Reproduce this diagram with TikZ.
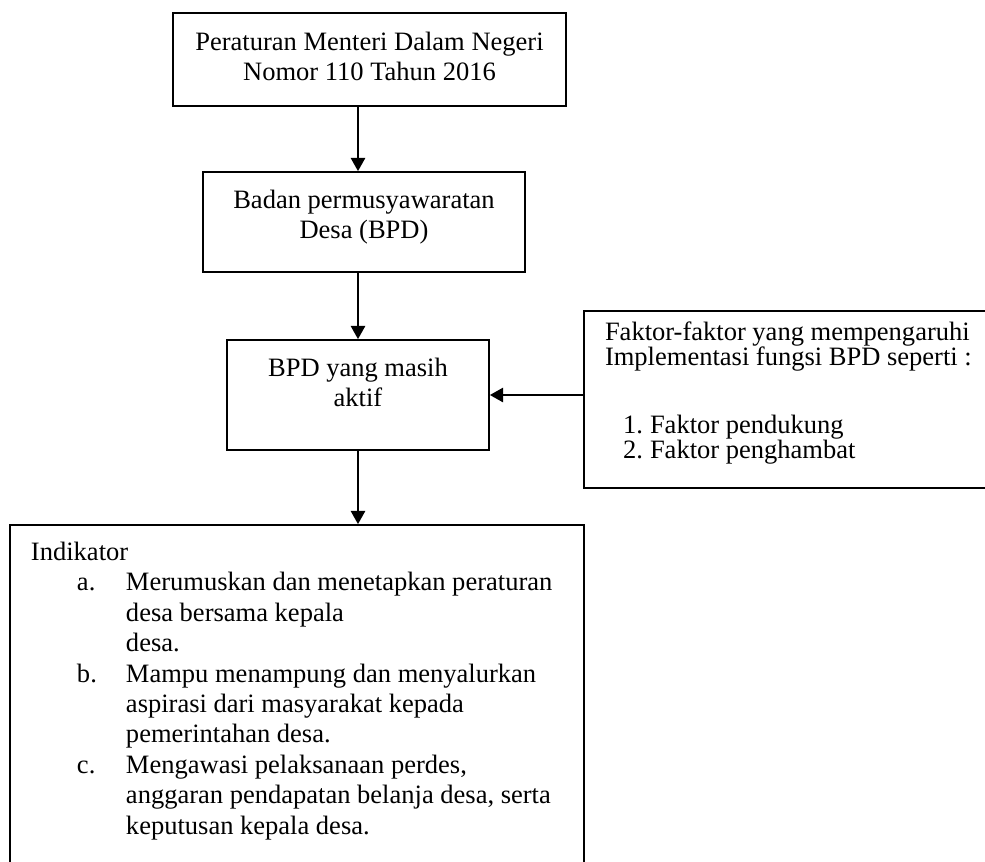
\documentclass[tikz,border=0pt]{standalone}
\usepackage{fontspec}
\setmainfont{Liberation Serif}
\usetikzlibrary{arrows.meta}

\newdimen\pxu \pxu=0.4525pt
\newcommand{\cbox}[4]{\parbox[c][#2\pxu][t]{#1\pxu}{\centering\rule{0pt}{#3\pxu}#4}}
\newcommand{\lbox}[4]{\parbox[c][#2\pxu][t]{#1\pxu}{\raggedright\rule{0pt}{#3\pxu}#4}}
\newcommand{\itm}[2]{\hspace*{67\pxu}\makebox[49\pxu][l]{#1}#2}
\newcommand{\cnt}[1]{\hspace*{116\pxu}#1}
\newcommand{\numitem}[2]{\hspace*{39\pxu}\makebox[27\pxu][l]{#1}#2}

\tikzstyle{box} = [rectangle, draw=black, line width=0.8pt, inner sep=0pt, font=\fontsize{12}{13.8}\selectfont]
\tikzstyle{arrow} = [line width=0.8pt,-{Triangle[length=6pt,width=6.5pt]}]

\begin{document}
\begin{tikzpicture}[x=\pxu, y=-\pxu]
    \path[use as bounding box] (0,0) rectangle (985,862);
    \clip (0,0) rectangle (985,862);

    \node (perm) [box] at (369.5,59.5) {\cbox{393}{93}{37}{Peraturan Menteri Dalam Negeri\\Nomor 110 Tahun 2016}};
    \node (bpd) [box] at (364,222) {\cbox{322}{100}{36}{Badan permusyawaratan\\Desa (BPD)}};
    \node (aktif) [box] at (358,395) {\cbox{262}{110}{36}{BPD yang masih\\aktif}};
    \node (faktor) [box] at (792,399.5) {\lbox{416}{177}{29}{\baselineskip=25\pxu\lineskiplimit=-10pt%
        \hspace*{21\pxu}Faktor-faktor yang mempengaruhi\\
        \hspace*{21\pxu}Implementasi fungsi BPD seperti :\\[43\pxu]
        \numitem{1.}{Faktor pendukung}\\
        \numitem{2.}{Faktor penghambat}}};
    \node (indikator) [box] at (297,702.5) {\lbox{574}{355}{35}{%
        \hspace*{21\pxu}Indikator\\
        \itm{a.}{Merumuskan dan menetapkan peraturan}\\
        \cnt{desa bersama kepala}\\
        \cnt{desa.}\\
        \itm{b.}{Mampu menampung dan menyalurkan}\\
        \cnt{aspirasi dari masyarakat kepada}\\
        \cnt{pemerintahan desa.}\\
        \itm{c.}{Mengawasi pelaksanaan perdes,}\\
        \cnt{anggaran pendapatan belanja desa, serta}\\
        \cnt{keputusan kepala desa.}}};

    \draw [arrow] (perm.south -| aktif.north) -- (bpd.north -| aktif.north);
    \draw [arrow] (bpd.south -| aktif.north) -- (aktif.north);
    \draw [arrow] (aktif.south) -- (indikator.north -| aktif.south);
    \draw [arrow] (faktor.west |- aktif.east) -- (aktif.east);
\end{tikzpicture}
\end{document}
